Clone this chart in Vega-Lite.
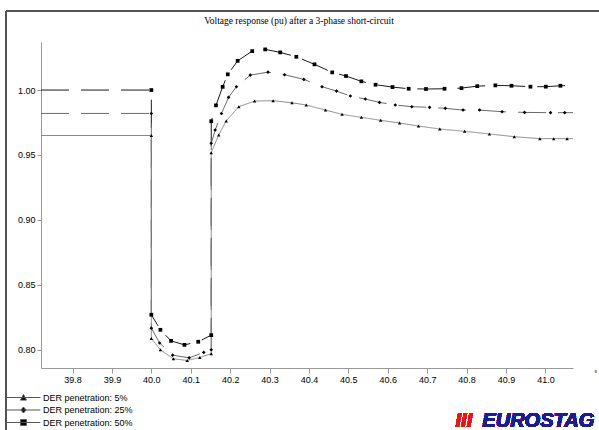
{
  "$schema": "https://vega.github.io/schema/vega-lite/v6.json",
  "width": 532,
  "height": 326,
  "autosize": {"type": "none"},
  "padding": {"left": 41, "top": 42, "right": 26, "bottom": 62},
  "background": "white",
  "title": {"text": "Voltage response (pu) after a 3-phase short-circuit", "font": "Liberation Serif", "fontSize": 9.5, "fontWeight": "normal", "color": "#000", "anchor": "middle", "dx": -8, "offset": -15},
  "config": {
    "view": {"stroke": null},
    "axis": {"domainColor": "#999", "tickColor": "#999", "grid": false, "labelFont": "Liberation Sans", "labelFontSize": 9, "labelColor": "#000"}
  },
  "data": {"values": [
    {"s": "DER penetration: 50%", "i": 0, "t": 39.72, "v": 1.0},
    {"s": "DER penetration: 50%", "i": 1, "t": 40.0, "v": 1.0},
    {"s": "DER penetration: 50%", "i": 2, "t": 40.0, "v": 0.827},
    {"s": "DER penetration: 50%", "i": 3, "t": 40.023, "v": 0.8154},
    {"s": "DER penetration: 50%", "i": 4, "t": 40.05, "v": 0.8069},
    {"s": "DER penetration: 50%", "i": 5, "t": 40.084, "v": 0.8038},
    {"s": "DER penetration: 50%", "i": 6, "t": 40.119, "v": 0.8062},
    {"s": "DER penetration: 50%", "i": 7, "t": 40.152, "v": 0.8113},
    {"s": "DER penetration: 50%", "i": 8, "t": 40.152, "v": 0.976},
    {"s": "DER penetration: 50%", "i": 9, "t": 40.164, "v": 0.9882},
    {"s": "DER penetration: 50%", "i": 10, "t": 40.181, "v": 1.0025},
    {"s": "DER penetration: 50%", "i": 11, "t": 40.194, "v": 1.0121},
    {"s": "DER penetration: 50%", "i": 12, "t": 40.219, "v": 1.0225},
    {"s": "DER penetration: 50%", "i": 13, "t": 40.256, "v": 1.03},
    {"s": "DER penetration: 50%", "i": 14, "t": 40.289, "v": 1.0313},
    {"s": "DER penetration: 50%", "i": 15, "t": 40.327, "v": 1.029},
    {"s": "DER penetration: 50%", "i": 16, "t": 40.368, "v": 1.0256},
    {"s": "DER penetration: 50%", "i": 17, "t": 40.414, "v": 1.0198},
    {"s": "DER penetration: 50%", "i": 18, "t": 40.459, "v": 1.0136},
    {"s": "DER penetration: 50%", "i": 19, "t": 40.494, "v": 1.0108},
    {"s": "DER penetration: 50%", "i": 20, "t": 40.533, "v": 1.0067},
    {"s": "DER penetration: 50%", "i": 21, "t": 40.569, "v": 1.0041},
    {"s": "DER penetration: 50%", "i": 22, "t": 40.612, "v": 1.0023},
    {"s": "DER penetration: 50%", "i": 23, "t": 40.653, "v": 1.001},
    {"s": "DER penetration: 50%", "i": 24, "t": 40.697, "v": 1.0008},
    {"s": "DER penetration: 50%", "i": 25, "t": 40.744, "v": 1.001},
    {"s": "DER penetration: 50%", "i": 26, "t": 40.787, "v": 1.0015},
    {"s": "DER penetration: 50%", "i": 27, "t": 40.827, "v": 1.003},
    {"s": "DER penetration: 50%", "i": 28, "t": 40.873, "v": 1.0036},
    {"s": "DER penetration: 50%", "i": 29, "t": 40.914, "v": 1.0033},
    {"s": "DER penetration: 50%", "i": 30, "t": 40.962, "v": 1.0026},
    {"s": "DER penetration: 50%", "i": 31, "t": 41.001, "v": 1.0026},
    {"s": "DER penetration: 50%", "i": 32, "t": 41.038, "v": 1.0033},
    {"s": "DER penetration: 50%", "i": 33, "t": 41.07, "v": 1.0035},
    {"s": "DER penetration: 25%", "i": 0, "t": 39.72, "v": 0.982},
    {"s": "DER penetration: 25%", "i": 1, "t": 40.0, "v": 0.982},
    {"s": "DER penetration: 25%", "i": 2, "t": 40.0, "v": 0.8167},
    {"s": "DER penetration: 25%", "i": 3, "t": 40.021, "v": 0.8052},
    {"s": "DER penetration: 25%", "i": 4, "t": 40.054, "v": 0.7959},
    {"s": "DER penetration: 25%", "i": 5, "t": 40.096, "v": 0.7938},
    {"s": "DER penetration: 25%", "i": 6, "t": 40.133, "v": 0.798},
    {"s": "DER penetration: 25%", "i": 7, "t": 40.152, "v": 0.8},
    {"s": "DER penetration: 25%", "i": 8, "t": 40.152, "v": 0.959},
    {"s": "DER penetration: 25%", "i": 9, "t": 40.162, "v": 0.9692},
    {"s": "DER penetration: 25%", "i": 10, "t": 40.178, "v": 0.982},
    {"s": "DER penetration: 25%", "i": 11, "t": 40.196, "v": 0.9944},
    {"s": "DER penetration: 25%", "i": 12, "t": 40.216, "v": 1.0026},
    {"s": "DER penetration: 25%", "i": 13, "t": 40.251, "v": 1.0115},
    {"s": "DER penetration: 25%", "i": 14, "t": 40.296, "v": 1.0138},
    {"s": "DER penetration: 25%", "i": 15, "t": 40.338, "v": 1.0118},
    {"s": "DER penetration: 25%", "i": 16, "t": 40.387, "v": 1.0082},
    {"s": "DER penetration: 25%", "i": 17, "t": 40.433, "v": 1.0026},
    {"s": "DER penetration: 25%", "i": 18, "t": 40.47, "v": 0.9992},
    {"s": "DER penetration: 25%", "i": 19, "t": 40.505, "v": 0.9954},
    {"s": "DER penetration: 25%", "i": 20, "t": 40.543, "v": 0.9931},
    {"s": "DER penetration: 25%", "i": 21, "t": 40.579, "v": 0.9905},
    {"s": "DER penetration: 25%", "i": 22, "t": 40.619, "v": 0.9885},
    {"s": "DER penetration: 25%", "i": 23, "t": 40.661, "v": 0.9872},
    {"s": "DER penetration: 25%", "i": 24, "t": 40.706, "v": 0.9867},
    {"s": "DER penetration: 25%", "i": 25, "t": 40.746, "v": 0.9859},
    {"s": "DER penetration: 25%", "i": 26, "t": 40.791, "v": 0.9846},
    {"s": "DER penetration: 25%", "i": 27, "t": 40.833, "v": 0.9846},
    {"s": "DER penetration: 25%", "i": 28, "t": 40.89, "v": 0.9833},
    {"s": "DER penetration: 25%", "i": 29, "t": 40.947, "v": 0.9828},
    {"s": "DER penetration: 25%", "i": 30, "t": 41.013, "v": 0.9826},
    {"s": "DER penetration: 25%", "i": 31, "t": 41.049, "v": 0.9826},
    {"s": "DER penetration: 25%", "i": 32, "t": 41.07, "v": 0.9826},
    {"s": "DER penetration: 5%", "i": 0, "t": 39.72, "v": 0.965},
    {"s": "DER penetration: 5%", "i": 1, "t": 40.0, "v": 0.965},
    {"s": "DER penetration: 5%", "i": 2, "t": 40.0, "v": 0.8087},
    {"s": "DER penetration: 5%", "i": 3, "t": 40.023, "v": 0.8},
    {"s": "DER penetration: 5%", "i": 4, "t": 40.056, "v": 0.7931},
    {"s": "DER penetration: 5%", "i": 5, "t": 40.091, "v": 0.7918},
    {"s": "DER penetration: 5%", "i": 6, "t": 40.123, "v": 0.7941},
    {"s": "DER penetration: 5%", "i": 7, "t": 40.152, "v": 0.797},
    {"s": "DER penetration: 5%", "i": 8, "t": 40.152, "v": 0.9518},
    {"s": "DER penetration: 5%", "i": 9, "t": 40.171, "v": 0.9654},
    {"s": "DER penetration: 5%", "i": 10, "t": 40.19, "v": 0.9762},
    {"s": "DER penetration: 5%", "i": 11, "t": 40.222, "v": 0.9872},
    {"s": "DER penetration: 5%", "i": 12, "t": 40.262, "v": 0.9915},
    {"s": "DER penetration: 5%", "i": 13, "t": 40.309, "v": 0.9918},
    {"s": "DER penetration: 5%", "i": 14, "t": 40.357, "v": 0.9902},
    {"s": "DER penetration: 5%", "i": 15, "t": 40.393, "v": 0.9885},
    {"s": "DER penetration: 5%", "i": 16, "t": 40.442, "v": 0.9846},
    {"s": "DER penetration: 5%", "i": 17, "t": 40.484, "v": 0.9813},
    {"s": "DER penetration: 5%", "i": 18, "t": 40.533, "v": 0.979},
    {"s": "DER penetration: 5%", "i": 19, "t": 40.582, "v": 0.9767},
    {"s": "DER penetration: 5%", "i": 20, "t": 40.63, "v": 0.9746},
    {"s": "DER penetration: 5%", "i": 21, "t": 40.678, "v": 0.9723},
    {"s": "DER penetration: 5%", "i": 22, "t": 40.732, "v": 0.97},
    {"s": "DER penetration: 5%", "i": 23, "t": 40.795, "v": 0.9682},
    {"s": "DER penetration: 5%", "i": 24, "t": 40.858, "v": 0.9662},
    {"s": "DER penetration: 5%", "i": 25, "t": 40.921, "v": 0.9641},
    {"s": "DER penetration: 5%", "i": 26, "t": 40.986, "v": 0.9626},
    {"s": "DER penetration: 5%", "i": 27, "t": 41.021, "v": 0.9626},
    {"s": "DER penetration: 5%", "i": 28, "t": 41.055, "v": 0.9626},
    {"s": "DER penetration: 5%", "i": 29, "t": 41.07, "v": 0.9626}
  ]},
  "layer": [
    {
      "mark": {"type": "rule", "color": "#555", "strokeWidth": 1},
      "encoding": {
        "x": {"datum": 39.632, "type": "quantitative"},
        "y": {"datum": 1.0608, "type": "quantitative"},
        "y2": {"datum": 0.7}
      }
    },
    {
      "mark": {"type": "rule", "color": "#555", "strokeWidth": 1},
      "encoding": {
        "x": {"datum": 39.632, "type": "quantitative"},
        "x2": {"datum": 41.3},
        "y": {"datum": 1.0608, "type": "quantitative"}
      }
    },
    {
      "mark": {"type": "line", "strokeWidth": 1},
      "encoding": {
        "x": {"field": "t", "type": "quantitative", "scale": {"domain": [39.72, 41.07], "nice": false, "zero": false},
          "axis": {"values": [39.8, 39.9, 40.0, 40.1, 40.2, 40.3, 40.4, 40.5, 40.6, 40.7, 40.8, 40.9, 41.0], "format": ".1f", "tickSize": 5, "labelPadding": 2,
            "title": "s", "titleFont": "Liberation Sans", "titleFontSize": 5, "titleFontWeight": "normal", "titleX": 553, "titleY": 2, "titleAlign": "left", "titleBaseline": "middle", "titleAnchor": null}},
        "y": {"field": "v", "type": "quantitative", "scale": {"domain": [0.786, 1.037], "nice": false, "zero": false},
          "axis": {"values": [0.8, 0.85, 0.9, 0.95, 1.0], "format": ".2f", "tickSize": 4, "labelPadding": 2, "title": null}},
        "color": {"field": "s", "type": "nominal", "legend": null,
          "scale": {"domain": ["DER penetration: 5%", "DER penetration: 25%", "DER penetration: 50%"], "range": ["#8a8a8a", "#6a6a6a", "#1a1a1a"]}},
        "strokeDash": {"field": "s", "type": "nominal", "legend": null,
          "scale": {"domain": ["DER penetration: 5%", "DER penetration: 25%", "DER penetration: 50%"], "range": [[1, 0], [28, 12], [28, 12]]}},
        "order": {"field": "i", "type": "quantitative"}
      }
    },
    {
      "transform": [{"filter": "datum.t > 39.73 && datum.t < 41.06"}],
      "mark": {"type": "point", "filled": true, "color": "#000", "opacity": 1},
      "encoding": {
        "x": {"field": "t", "type": "quantitative"},
        "y": {"field": "v", "type": "quantitative"},
        "shape": {"field": "s", "type": "nominal", "legend": null,
          "scale": {"domain": ["DER penetration: 5%", "DER penetration: 25%", "DER penetration: 50%"], "range": ["triangle-up", "diamond", "square"]}},
        "size": {"field": "s", "type": "nominal", "legend": null,
          "scale": {"domain": ["DER penetration: 5%", "DER penetration: 25%", "DER penetration: 50%"], "range": [12, 14, 25]}}
      }
    },
    {
      "transform": [{"filter": "false"}],
      "mark": {"type": "point", "filled": true, "fill": "#000", "stroke": "#555", "strokeWidth": 1, "opacity": 1},
      "encoding": {
        "x": {"field": "t", "type": "quantitative"},
        "y": {"field": "v", "type": "quantitative"},
        "shape": {"field": "s", "type": "nominal",
          "scale": {"domain": ["DER penetration: 5%", "DER penetration: 25%", "DER penetration: 50%"],
            "range": ["M-2.6,0L2.6,0M-0.46,0.4L0.46,0.4L0,-0.45Z", "M-2.6,0L2.6,0M0,-0.46L0.4,0L0,0.46L-0.4,0Z", "M-2.6,0L2.6,0M-0.45,-0.45L0.45,-0.45L0.45,0.45L-0.45,0.45Z"]},
          "legend": {"title": null, "orient": "none", "legendX": -24.5, "legendY": 348.5, "symbolSize": 169, "symbolStrokeWidth": 1,
            "labelFont": "Liberation Sans", "labelFontSize": 9, "labelColor": "#000", "labelOffset": 12.5, "rowPadding": 0.5, "padding": 0}}
      }
    },
    {
      "mark": {"type": "text", "text": "III", "font": "Liberation Sans", "fontSize": 20, "fontStyle": "italic", "fontWeight": "bold", "color": "#e8141c", "align": "left", "baseline": "alphabetic"},
      "encoding": {
        "x": {"datum": 40.772, "type": "quantitative"},
        "y": {"datum": 0.7408, "type": "quantitative"}
      }
    },
    {
      "mark": {"type": "text", "text": "EUROSTAG", "font": "Liberation Sans", "fontSize": 20, "fontStyle": "italic", "fontWeight": "bold", "color": "#1c1c8c", "align": "left", "baseline": "alphabetic"},
      "encoding": {
        "x": {"datum": 40.84, "type": "quantitative"},
        "y": {"datum": 0.7408, "type": "quantitative"}
      }
    }
  ],
  "resolve": {"scale": {"shape": "independent"}, "legend": {"shape": "independent"}}
}
